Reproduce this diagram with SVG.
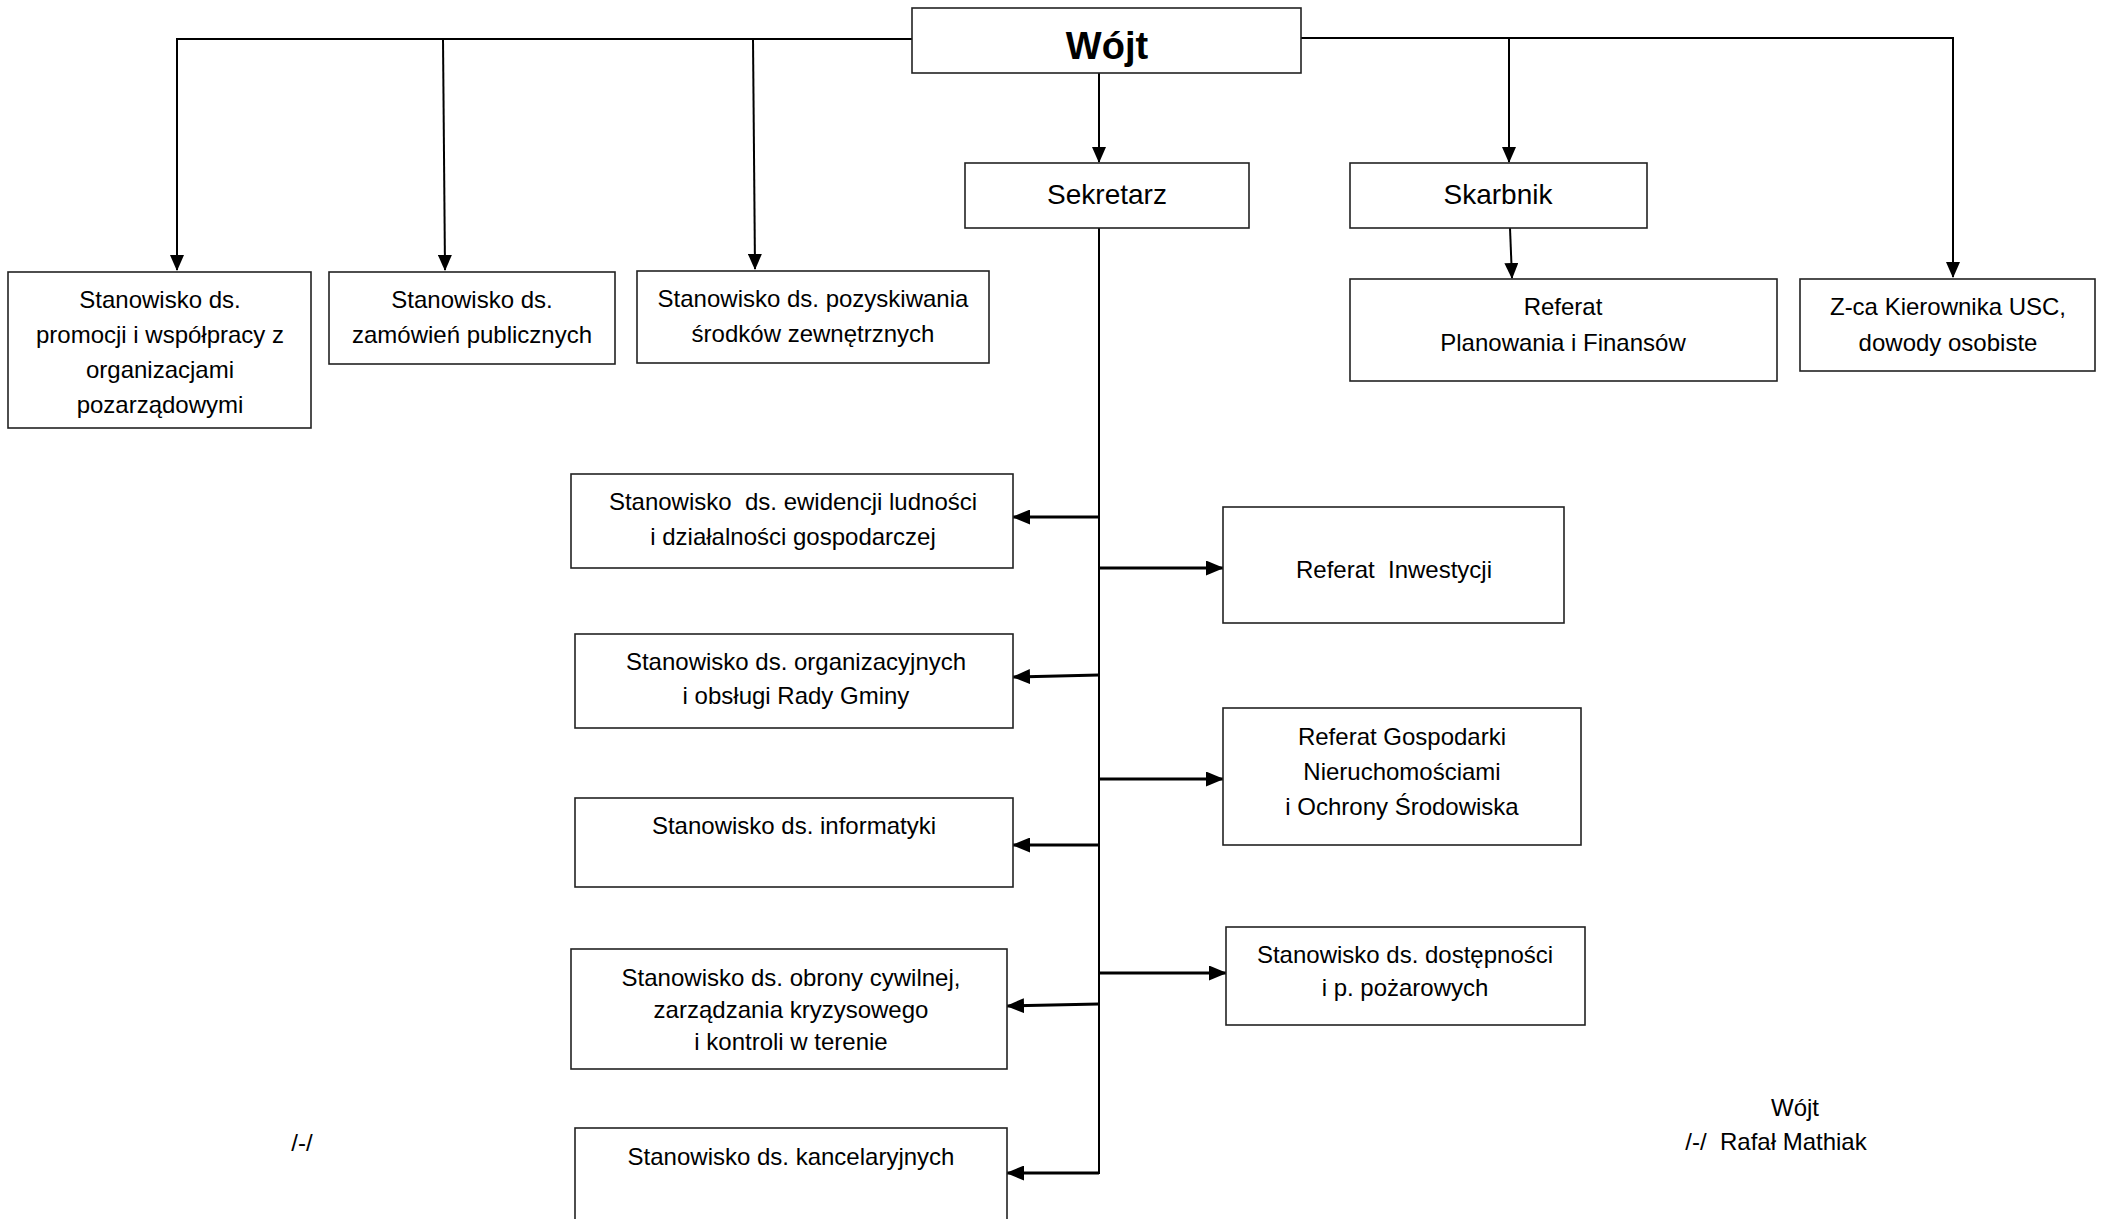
<svg xmlns="http://www.w3.org/2000/svg" width="2103" height="1219" viewBox="0 0 2103 1219">
<style>
.box{fill:#fff;stroke:#222;stroke-width:1.6}
.t{font-family:"Liberation Sans",Arial,sans-serif;font-size:24px;fill:#000;text-anchor:middle;white-space:pre}
.big{font-size:28px}
.head{font-size:38px;font-weight:bold}
.c{fill:none;stroke:#000;stroke-width:2}
.s{fill:none;stroke:#000;stroke-width:3}
</style>
<defs>
<marker id="a" markerUnits="userSpaceOnUse" markerWidth="16" markerHeight="14" refX="15" refY="7" orient="auto" viewBox="0 0 16 14">
<path d="M0,0 L16,7 L0,14 z" fill="#000"/>
</marker>
<marker id="b" markerUnits="userSpaceOnUse" markerWidth="18" markerHeight="15" refX="17" refY="7.5" orient="auto" viewBox="0 0 18 15">
<path d="M0,0 L18,7.5 L0,15 z" fill="#000"/>
</marker>
</defs>
<rect width="2103" height="1219" fill="#fff"/>
<g id="connectors">
<path class="c" d="M912,39 H177 V270" marker-end="url(#a)"/>
<line class="c" x1="443" y1="39" x2="445" y2="270" marker-end="url(#a)"/>
<line class="c" x1="753" y1="39" x2="755" y2="269" marker-end="url(#a)"/>
<path class="c" d="M1301,38 H1953 V277" marker-end="url(#a)"/>
<line class="c" x1="1509" y1="38" x2="1509" y2="162" marker-end="url(#a)"/>
<line class="c" x1="1099" y1="73" x2="1099" y2="162" marker-end="url(#a)"/>
<line class="c" x1="1510" y1="228" x2="1512" y2="278" marker-end="url(#a)"/>
<line class="c" x1="1099" y1="228" x2="1099" y2="1174"/>
<line class="s" x1="1099" y1="517" x2="1013" y2="517" marker-end="url(#b)"/>
<line class="s" x1="1099" y1="675" x2="1013" y2="677" marker-end="url(#b)"/>
<line class="s" x1="1099" y1="845" x2="1013" y2="845" marker-end="url(#b)"/>
<line class="s" x1="1099" y1="1004" x2="1007" y2="1006" marker-end="url(#b)"/>
<line class="s" x1="1099" y1="1173" x2="1007" y2="1173" marker-end="url(#b)"/>
<line class="s" x1="1099" y1="568" x2="1223" y2="568" marker-end="url(#b)"/>
<line class="s" x1="1099" y1="779" x2="1223" y2="779" marker-end="url(#b)"/>
<line class="s" x1="1099" y1="973" x2="1226" y2="973" marker-end="url(#b)"/>
</g>
<g id="wojt">
<rect class="box" x="912" y="8" width="389" height="65"/>
<text class="t head" x="1107" y="59">Wójt</text>
</g>
<g id="sekretarz">
<rect class="box" x="965" y="163" width="284" height="65"/>
<text class="t big" x="1107" y="204">Sekretarz</text>
</g>
<g id="skarbnik">
<rect class="box" x="1350" y="163" width="297" height="65"/>
<text class="t big" x="1498" y="204">Skarbnik</text>
</g>
<g id="promocji">
<rect class="box" x="8" y="272" width="303" height="156"/>
<text class="t" x="160" y="308">Stanowisko ds.</text>
<text class="t" x="160" y="343">promocji i współpracy z</text>
<text class="t" x="160" y="378">organizacjami</text>
<text class="t" x="160" y="413">pozarządowymi</text>
</g>
<g id="zamowien">
<rect class="box" x="329" y="272" width="286" height="92"/>
<text class="t" x="472" y="308">Stanowisko ds.</text>
<text class="t" x="472" y="343">zamówień publicznych</text>
</g>
<g id="pozyskiwania">
<rect class="box" x="637" y="271" width="352" height="92"/>
<text class="t" x="813" y="307">Stanowisko ds. pozyskiwania</text>
<text class="t" x="813" y="342">środków zewnętrznych</text>
</g>
<g id="planowania">
<rect class="box" x="1350" y="279" width="427" height="102"/>
<text class="t" x="1563" y="315">Referat</text>
<text class="t" x="1563" y="351">Planowania i Finansów</text>
</g>
<g id="usc">
<rect class="box" x="1800" y="279" width="295" height="92"/>
<text class="t" x="1948" y="315">Z-ca Kierownika USC,</text>
<text class="t" x="1948" y="351">dowody osobiste</text>
</g>
<g id="ewidencji">
<rect class="box" x="571" y="474" width="442" height="94"/>
<text class="t" x="793" y="510">Stanowisko  ds. ewidencji ludności</text>
<text class="t" x="793" y="545">i działalności gospodarczej</text>
</g>
<g id="inwestycji">
<rect class="box" x="1223" y="507" width="341" height="116"/>
<text class="t" x="1394" y="578">Referat  Inwestycji</text>
</g>
<g id="organizacyjnych">
<rect class="box" x="575" y="634" width="438" height="94"/>
<text class="t" x="796" y="670">Stanowisko ds. organizacyjnych</text>
<text class="t" x="796" y="704">i obsługi Rady Gminy</text>
</g>
<g id="gospodarki">
<rect class="box" x="1223" y="708" width="358" height="137"/>
<text class="t" x="1402" y="745">Referat Gospodarki</text>
<text class="t" x="1402" y="780">Nieruchomościami</text>
<text class="t" x="1402" y="815">i Ochrony Środowiska</text>
</g>
<g id="informatyki">
<rect class="box" x="575" y="798" width="438" height="89"/>
<text class="t" x="794" y="834">Stanowisko ds. informatyki</text>
</g>
<g id="dostepnosci">
<rect class="box" x="1226" y="927" width="359" height="98"/>
<text class="t" x="1405" y="963">Stanowisko ds. dostępności</text>
<text class="t" x="1405" y="996">i p. pożarowych</text>
</g>
<g id="obrony">
<rect class="box" x="571" y="949" width="436" height="120"/>
<text class="t" x="791" y="986">Stanowisko ds. obrony cywilnej,</text>
<text class="t" x="791" y="1018">zarządzania kryzysowego</text>
<text class="t" x="791" y="1050">i kontroli w terenie</text>
</g>
<g id="kancelaryjnych">
<rect class="box" x="575" y="1128" width="432" height="110"/>
<text class="t" x="791" y="1165">Stanowisko ds. kancelaryjnych</text>
</g>
<g id="podpis">
<text class="t" x="302" y="1151">/-/</text>
<text class="t" x="1795" y="1116">Wójt</text>
<text class="t" x="1776" y="1150">/-/  Rafał Mathiak</text>
</g>
</svg>
